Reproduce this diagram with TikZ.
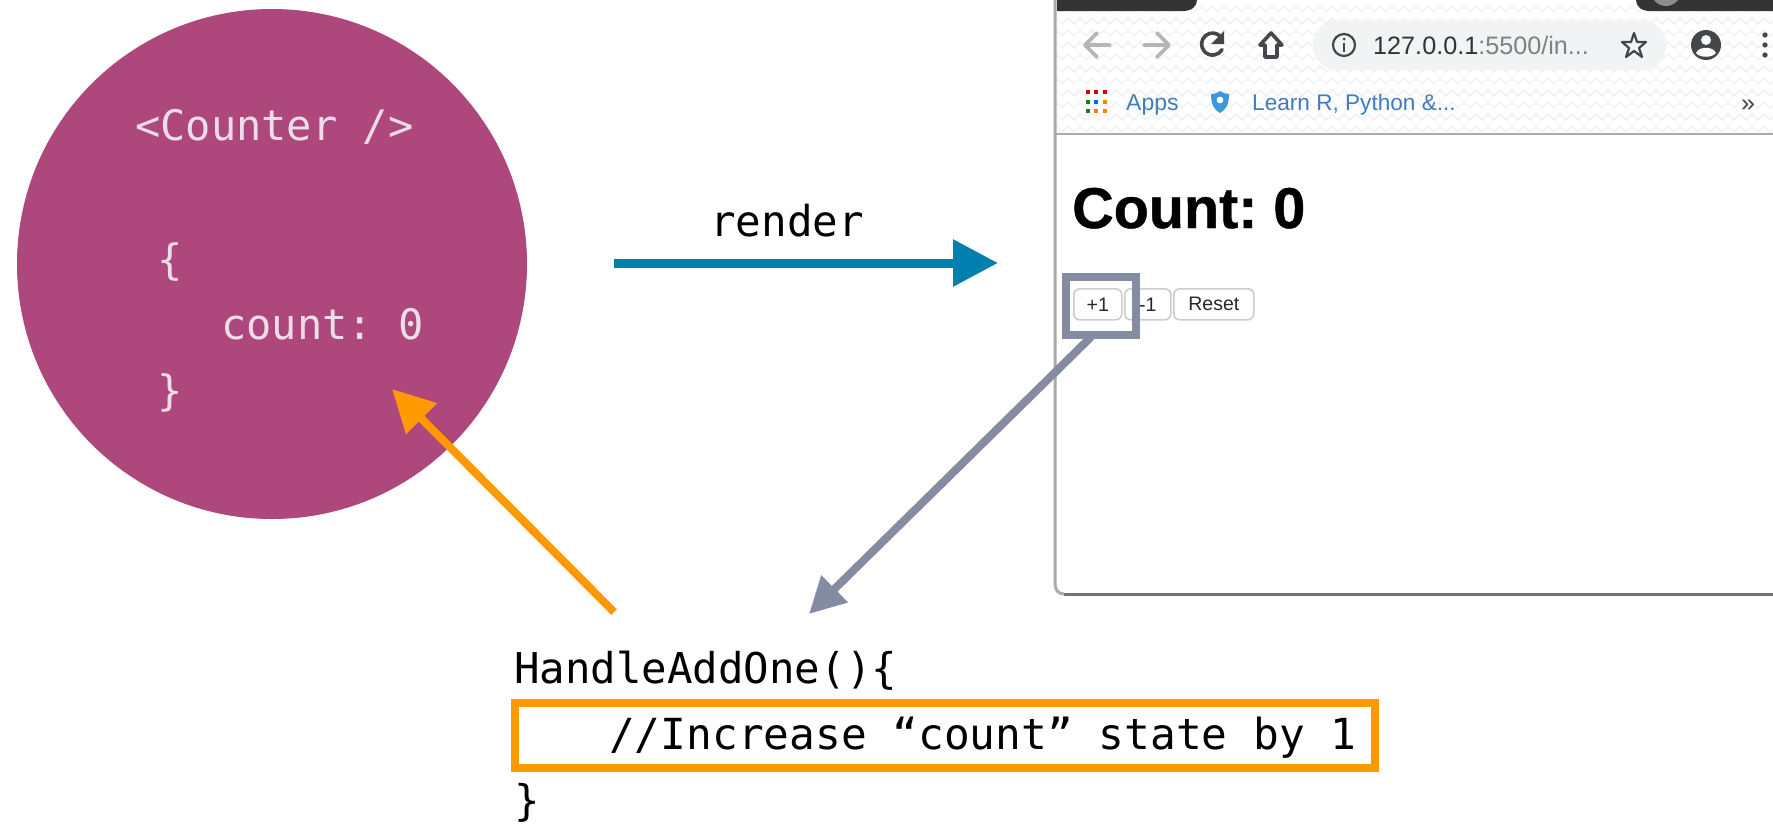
\documentclass[tikz,border=0pt]{standalone}
\usepackage{fontspec}
\setmainfont{Liberation Sans}
\newfontfamily\codefont{DejaVu Sans Mono}
\newfontfamily\headfont[FakeBold=0.8]{Liberation Sans Bold}
\usetikzlibrary{arrows.meta}
\definecolor{plum}{HTML}{AD477C}
\definecolor{plumtext}{HTML}{EEDDE8}
\definecolor{renderblue}{HTML}{0080AE}
\definecolor{slategray}{HTML}{858BA0}
\definecolor{amber}{HTML}{FF9900}
\definecolor{tabdark}{HTML}{333333}
\definecolor{edgegray}{HTML}{ABABAB}
\definecolor{icongray}{HTML}{B4B6B9}
\definecolor{icondark}{HTML}{444649}
\definecolor{pillgray}{HTML}{F1F3F4}
\definecolor{linkblue}{HTML}{3F7CBF}
\definecolor{weave}{HTML}{F3F3F3}
\tikzset{
  code/.style={font=\codefont\fontsize{42}{42}\selectfont,anchor=base west,inner sep=0pt,text=black},
  handlercode/.style={code,font=\codefont\fontsize{42.4}{42}\selectfont},
  bodycode/.style={code,font=\codefont\fontsize{42.8}{42}\selectfont},
  circlecode/.style={code,text=plumtext},
  pagebutton/.style={draw=black!20,line width=1.6pt,fill=white,rounded corners=6pt,inner sep=0pt,
    font=\fontsize{19.5}{19.5}\selectfont,text=black!85,anchor=north west},
  linkarrow/.style={-{Triangle[length=#1,width=#1]}},
  uitext/.style={anchor=base west,inner sep=0pt},
  toolicon/.style={line width=3.6pt,line cap=round,line join=round},
}
\begin{document}
\frenchspacing
\begin{tikzpicture}[x=1pt,y=-1pt]
\useasboundingbox (0,0) rectangle (1773,825);
\fill[white] (0,0) rectangle (1773,825);

% component circle
\node[circle,fill=plum,minimum size=510pt,inner sep=0pt] (comp) at (272,264) {};
\node[circlecode] (ctitle) at (135,140) {<Counter />};
\node[circlecode] (copen) at (157,274) {\{};
\node[circlecode] (ccount) at (221,339) {count: 0};
\node[circlecode] (cclose) at (157,405) {\}};

% browser window
\begin{scope}
  \clip (1055,0) rectangle (1773,134);
  \foreach \r in {0,...,11}{
    \foreach \c in {0,...,62}{
      \pgfmathsetmacro{\xa}{1050+\c*12}
      \pgfmathsetmacro{\ya}{6+\r*12}
      \draw[weave,line width=1.6pt] (\xa,\ya+6) -- (\xa+6,\ya) -- (\xa+12,\ya+6);
    }
  }
\end{scope}
\draw[edgegray,line width=3pt] (1055,0) -- (1055,583) .. controls (1055,590) and (1058,594) .. (1064,594);
\draw[edgegray,line width=2.5pt] (1055,134) -- (1773,134);
\draw[black!55,line width=3pt] (1064,594) -- (1773,594);
\fill[tabdark] (1057,0) -- (1057,11) -- (1183,11) .. controls (1192,11) and (1197,6) .. (1197,0) -- cycle;
\fill[tabdark] (1773,0) -- (1773,11) -- (1650,11) .. controls (1641,11) and (1636,6) .. (1636,0) -- cycle;
\begin{scope}
  \clip (1640,0) rectangle (1700,11);
  \fill[black!45] (1666,-9) circle[radius=15pt];
\end{scope}

% toolbar
\draw[toolicon,icongray] (1110,45) -- (1086,45) (1097,33) -- (1085,45) -- (1097,57);
\draw[toolicon,icongray] (1144,45) -- (1168,45) (1157,33) -- (1169,45) -- (1157,57);
\draw[toolicon,icondark] (1221,37) arc[start angle=40,end angle=330,radius=11pt];
\fill[icondark] (1224,31) -- (1224,44) -- (1211,44) -- cycle;
\draw[toolicon,icondark] (1260,45) -- (1271,33) -- (1282,45) -- (1277,45) -- (1277,57) -- (1265,57) -- (1265,45) -- cycle;
\fill[pillgray,rounded corners=24pt] (1313,20) rectangle (1666,70);
\draw[icondark,line width=2.2pt] (1344,45) circle[radius=11pt];
\fill[icondark] (1344,39) circle[radius=1.5pt];
\draw[icondark,line width=2.2pt] (1344,43) -- (1344,52);
\node[uitext,font=\fontsize{25.2}{25}\selectfont,text=black!80] (url) at (1373,54) {127.0.0.1\textcolor{black!50}{:5500/in...}};
\draw[icondark,line width=2.2pt,line join=round] (1634,33)
  -- (1637,42) -- (1646,42) -- (1639,48) -- (1642,57) -- (1634,51)
  -- (1626,57) -- (1629,48) -- (1622,42) -- (1631,42) -- cycle;
\fill[icondark] (1706,45) circle[radius=15pt];
\fill[white] (1706,40) circle[radius=5pt];
\fill[white] (1696,53) .. controls (1699,46) and (1713,46) .. (1716,53) .. controls (1712,58) and (1700,58) .. (1696,53) -- cycle;
\foreach \dy in {35,45,55}{\fill[icondark] (1765,\dy) circle[radius=2.6pt];}

% bookmarks
\foreach \cx/\cy/\cc in {1088/92/red!85!black,1096/92/red!85!black,1105/92/red!85!black,
  1088/102/green!55!black,1096/102/blue!60!cyan,1105/102/orange,
  1088/111/green!55!black,1096/111/orange,1105/111/orange}{
  \fill[\cc] (\cx-2.4,\cy-2.4) rectangle (\cx+2.4,\cy+2.4);
}
\node[uitext,font=\fontsize{23}{23}\selectfont,text=linkblue] (apps) at (1126,110) {Apps};
\fill[cyan!70!blue!80] (1211,94) .. controls (1216,94) and (1218,92) .. (1220,91) .. controls (1222,92) and (1224,94) .. (1229,94) .. controls (1229,104) and (1226,110) .. (1220,113) .. controls (1214,110) and (1211,104) .. (1211,94) -- cycle;
\fill[white] (1220,100) circle[radius=3.4pt];
\node[uitext,font=\fontsize{22.6}{23}\selectfont,text=linkblue] (learn) at (1252,110) {Learn R, Python \&...};
\node[uitext,font=\fontsize{25}{25}\selectfont,text=icondark] (more) at (1741,111) {»};

% page content
\node[uitext,font=\headfont\fontsize{57.5}{57}\selectfont,text=black] (heading) at (1072,228) {Count: 0};
\node[pagebutton,minimum width=48pt,minimum height=31pt] (plus) at (1073,288) {+1};
\node[pagebutton,minimum width=46pt,minimum height=31pt] (minus) at (1124,288) {-1};
\node[pagebutton,minimum width=80pt,minimum height=31pt] (reset) at (1173,288) {Reset};
\node[draw=slategray,line width=8pt,minimum width=70pt,minimum height=58pt,inner sep=0pt] (highlight) at (1101,306) {};

% handler code
\node[handlercode] (hname) at (514,683) {HandleAddOne()\{};
\node[draw=amber,line width=8pt,minimum width=860pt,minimum height=65pt,inner sep=0pt] (hbox) at (945,735.5) {};
\node[bodycode] (hbody) at (609,749) {//Increase “count” state by 1};
\node[handlercode] (hclose) at (514,815) {\}};

% connectors
\node[code,anchor=base,font=\codefont\fontsize{42.6}{42}\selectfont] (rlabel) at (787,236) {render};
\coordinate (rstart) at (614,263);
\coordinate (rend) at (998,263);
\coordinate (gstart) at (1091,337);
\coordinate (gend) at (809,614);
\coordinate (ostart) at (614,612);
\coordinate (oend) at (392,389);
\draw[renderblue,line width=9pt,linkarrow=45pt] (rstart) -- (rend);
\draw[slategray,line width=8pt,linkarrow=36pt] (gstart) -- (gend);
\draw[amber,line width=8pt,linkarrow=42pt] (ostart) -- (oend);
\end{tikzpicture}
\end{document}
